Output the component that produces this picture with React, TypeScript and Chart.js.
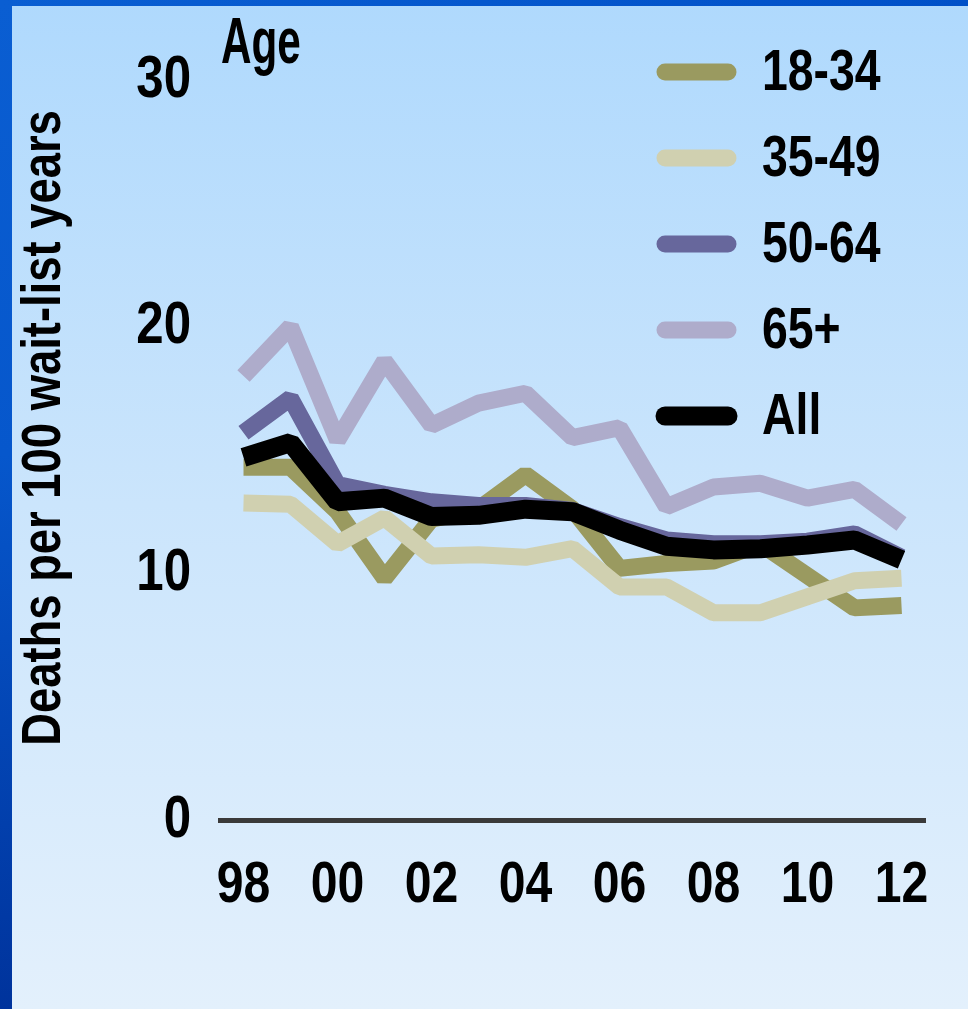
import React, { useEffect, useRef } from "react";
import { Chart, registerables } from "chart.js";

Chart.register(...registerables);

// Wait-list years, 1998 through 2012
const years = [1998, 1999, 2000, 2001, 2002, 2003, 2004, 2005, 2006, 2007, 2008, 2009, 2010, 2011, 2012];
const xTickLabels = ["98", "00", "02", "04", "06", "08", "10", "12"];
const yTickValues = [0, 10, 20, 30];

// Deaths per 100 wait-list years, by age group
const age18to34 = [14.3, 14.3, 12.5, 9.8, 12.2, 12.6, 14.0, 12.6, 10.2, 10.4, 10.5, 11.2, 9.9, 8.6, 8.7];
const age35to49 = [12.85, 12.8, 11.2, 12.25, 10.7, 10.75, 10.65, 11.0, 9.45, 9.45, 8.4, 8.4, 9.05, 9.7, 9.8];
const age50to64 = [15.7, 17.1, 13.6, 13.2, 12.9, 12.75, 12.75, 12.55, 11.9, 11.35, 11.2, 11.2, 11.3, 11.6, 10.65];
const age65plus = [18.0, 20.0, 15.4, 18.6, 16.0, 16.9, 17.3, 15.5, 15.9, 12.7, 13.5, 13.65, 13.05, 13.4, 12.0];
const allAges = [14.7, 15.3, 12.9, 13.05, 12.3, 12.35, 12.6, 12.5, 11.75, 11.1, 10.95, 11.0, 11.15, 11.35, 10.55];

const seriesLabels = ["18-34", "35-49", "50-64", "65+", "All"];
const seriesColors = ["#9a9a60", "#d0d0b0", "#67679c", "#aeaccb", "#000000"];
const legendTitle = "Age";
const yAxisTitle = "Deaths per 100 wait-list years";

const W = 968;
const H = 1009;
const FONT_FAMILY = '"Liberation Sans", Arial, sans-serif';

// Condensed bold text: the regular face squeezed horizontally
function drawCondensed(
  ctx: CanvasRenderingContext2D,
  text: string,
  x: number,
  y: number,
  size: number,
  squeeze: number,
  align: CanvasTextAlign,
  baseline: CanvasTextBaseline,
  rotate = 0
) {
  ctx.save();
  ctx.translate(x, y);
  if (rotate) ctx.rotate(rotate);
  ctx.scale(squeeze, 1);
  ctx.font = `bold ${size}px ${FONT_FAMILY}`;
  ctx.textAlign = align;
  ctx.textBaseline = baseline;
  ctx.fillStyle = "#000";
  ctx.fillText(text, 0, 0);
  ctx.restore();
}

// Slide backdrop: light-blue vertical gradient with a blue frame on the top and left
const backdrop = {
  id: "backdrop",
  beforeDraw(chart: Chart) {
    const { ctx } = chart;
    ctx.save();
    const g = ctx.createLinearGradient(0, 0, 0, H);
    g.addColorStop(0, "#afd9fd");
    g.addColorStop(0.5, "#cbe5fc");
    g.addColorStop(1, "#e3f0fc");
    ctx.fillStyle = g;
    ctx.fillRect(0, 0, W, H);
    const side = ctx.createLinearGradient(0, 0, 0, H);
    side.addColorStop(0, "#0a5ed2");
    side.addColorStop(0.45, "#0657cc");
    side.addColorStop(1, "#00339c");
    ctx.fillStyle = side;
    ctx.fillRect(0, 0, 12, H);
    const top = ctx.createLinearGradient(0, 0, W, 0);
    top.addColorStop(0, "#0a5ed2");
    top.addColorStop(1, "#0050c8");
    ctx.fillStyle = top;
    ctx.fillRect(0, 0, W, 6);
    ctx.restore();
  },
};

// Tick labels, axis title, legend heading and the line legend
const labelsAndLegend = {
  id: "labelsAndLegend",
  afterDraw(chart: Chart) {
    const { ctx } = chart;
    const xs: any = chart.scales.x;
    const ys: any = chart.scales.y;

    // y ticks
    yTickValues.forEach((v) => {
      drawCondensed(ctx, String(v), 191, ys.getPixelForValue(v), 60, 0.82, "right", "middle");
    });

    // x ticks, every second year
    xTickLabels.forEach((t, i) => {
      drawCondensed(ctx, t, xs.getPixelForValue(i * 2), 886, 58, 0.83, "center", "middle");
    });

    // rotated y-axis title
    drawCondensed(ctx, yAxisTitle, 45, 428, 55, 0.825, "center", "middle", -Math.PI / 2);

    // legend heading
    drawCondensed(ctx, legendTitle, 221, 63, 64, 0.66, "left", "alphabetic");

    // legend entries
    const rowStart = 72;
    const rowStep = 86;
    chart.data.datasets.forEach((ds: any, i: number) => {
      const y = rowStart + i * rowStep;
      ctx.save();
      ctx.strokeStyle = ds.borderColor;
      ctx.lineWidth = ds.borderWidth;
      ctx.lineCap = "round";
      ctx.beginPath();
      ctx.moveTo(665, y);
      ctx.lineTo(728, y);
      ctx.stroke();
      ctx.restore();
      drawCondensed(ctx, ds.label, 762, y + 2, 58, 0.8, "left", "middle");
    });
  },
};

const seriesData = [age18to34, age35to49, age50to64, age65plus, allAges];
// draw order: "All" on top, then 50-64, 35-49, 18-34, 65+ underneath
const drawOrder = [3, 2, 1, 4, 0];

export default function App() {
  const canvasRef = useRef<HTMLCanvasElement | null>(null);

  useEffect(() => {
    const canvas = canvasRef.current;
    if (!canvas) return;
    const chart = new Chart(canvas, {
      type: "line",
      data: {
        labels: years.map(String),
        datasets: seriesLabels.map((label, i) => ({
          label,
          data: seriesData[i],
          borderColor: seriesColors[i],
          backgroundColor: seriesColors[i],
          borderWidth: label === "All" ? 19 : 17,
          borderCapStyle: "butt" as const,
          borderJoinStyle: "bevel" as const,
          pointRadius: 0,
          pointHoverRadius: 0,
          tension: 0,
          fill: false,
          order: drawOrder[i],
        })),
      },
      options: {
        responsive: false,
        animation: false,
        devicePixelRatio: 1,
        layout: { padding: { left: 0, top: 80, right: 43, bottom: 0 } },
        plugins: {
          legend: { display: false },
          tooltip: { enabled: false },
          title: { display: false },
        },
        scales: {
          x: {
            type: "category",
            offset: true,
            grid: { display: false, drawTicks: false },
            border: { display: true, color: "#3a3a3a", width: 5 },
            ticks: { display: false, autoSkip: false },
            afterFit: (scale: any) => {
              scale.height = H - 820;
            },
          },
          y: {
            min: 0,
            max: 30,
            grid: { display: false, drawTicks: false },
            border: { display: false },
            ticks: { display: false },
            afterBuildTicks: (scale: any) => {
              scale.ticks = yTickValues.map((v) => ({ value: v }));
            },
            afterFit: (scale: any) => {
              scale.width = 220;
            },
          },
        },
      },
      plugins: [backdrop, labelsAndLegend],
    });
    return () => chart.destroy();
  }, []);

  return (
    <div style={{ position: "absolute", left: 0, top: 0, width: W, height: H }}>
      <canvas ref={canvasRef} width={W} height={H} style={{ display: "block", width: W, height: H }} />
    </div>
  );
}
